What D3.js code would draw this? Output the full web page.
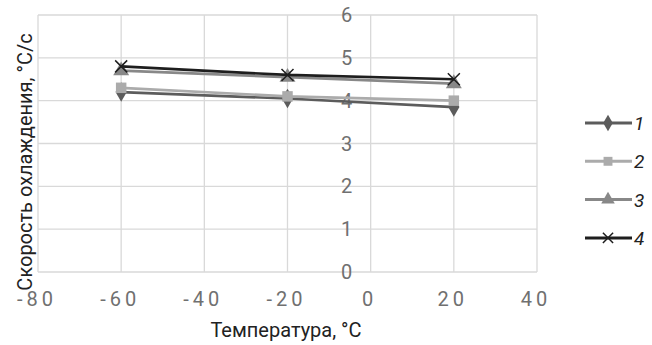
<!DOCTYPE html>
<html>
<head>
<meta charset="utf-8">
<script src="https://cdn.jsdelivr.net/npm/d3@7"></script>
<style>
  body { margin: 0; background: #fff; }
  text { font-family: Roboto, "Liberation Sans", Arial, sans-serif; }
</style>
</head>
<body>
<svg id="chart" width="652" height="345"></svg>
<script>
// data
var temps = [-60, -20, 20];
var series1 = [4.2, 4.05, 3.85];
var series2 = [4.3, 4.1, 4.0];
var series3 = [4.7, 4.55, 4.4];
var series4 = [4.8, 4.6, 4.5];
var seriesNames = ["1", "2", "3", "4"];
var xTicks = [-80, -60, -40, -20, 0, 20, 40];
var yTicks = [0, 1, 2, 3, 4, 5, 6];

var svg = d3.select("#chart");

var x = d3.scaleLinear().domain([-80, 40]).range([38, 537]);
var y = d3.scaleLinear().domain([0, 6]).range([272, 15]);

// grid
svg.append("g").selectAll("line").data(xTicks).enter().append("line")
  .attr("x1", function(d) { return x(d); }).attr("x2", function(d) { return x(d); })
  .attr("y1", y(0)).attr("y2", y(6))
  .attr("stroke", "#d9d9d9").attr("stroke-width", 1.3);
svg.append("g").selectAll("line").data(yTicks).enter().append("line")
  .attr("x1", x(-80)).attr("x2", x(40))
  .attr("y1", function(d) { return y(d); }).attr("y2", function(d) { return y(d); })
  .attr("stroke", "#d9d9d9").attr("stroke-width", 1.3);

// x tick labels (spaced out digits)
svg.append("g").selectAll("text").data(xTicks).enter().append("text")
  .attr("x", function(d) { return x(d) - 1; })
  .attr("y", 306)
  .attr("text-anchor", "middle")
  .attr("font-size", 20)
  .attr("letter-spacing", 4)
  .attr("fill", "#707070")
  .text(function(d) { return d; });

// y tick labels, sitting left of the x=0 axis
svg.append("g").selectAll("text").data(yTicks).enter().append("text")
  .attr("x", x(0) - 24)
  .attr("y", function(d) { return y(d) + 7; })
  .attr("text-anchor", "middle")
  .attr("font-size", 20)
  .attr("fill", "#707070")
  .text(function(d) { return d; });

var all = [
  { name: seriesNames[0], vals: series1, color: "#5c5c5c", sym: d3.symbolDiamond },
  { name: seriesNames[1], vals: series2, color: "#ababab", sym: d3.symbolSquare },
  { name: seriesNames[2], vals: series3, color: "#888888", sym: d3.symbolTriangle },
  { name: seriesNames[3], vals: series4, color: "#1e1e1e", sym: "x" }
];

var line = d3.line()
  .x(function(d, i) { return x(temps[i]); })
  .y(function(d) { return y(d); });

function marker(g, s, cx, cy, scale) {
  if (s.sym === "x") {
    var r = 6 * scale;
    g.append("path")
      .attr("d", "M" + (cx - r) + "," + (cy - r) + "L" + (cx + r) + "," + (cy + r) +
                 "M" + (cx - r) + "," + (cy + r) + "L" + (cx + r) + "," + (cy - r))
      .attr("stroke", s.color).attr("stroke-width", 1.5).attr("fill", "none");
  } else {
    g.append("path")
      .attr("d", d3.symbol().type(s.sym).size(110 * scale * scale)())
      .attr("transform", "translate(" + cx + "," + cy + ")")
      .attr("fill", s.color);
  }
}

all.forEach(function(s) {
  var g = svg.append("g");
  g.append("path").datum(s.vals)
    .attr("d", line)
    .attr("fill", "none")
    .attr("stroke", s.color)
    .attr("stroke-width", 2.7);
  s.vals.forEach(function(v, i) { marker(g, s, x(temps[i]), y(v), 1); });
});

// legend
var leg = svg.append("g");
all.forEach(function(s, i) {
  var ly = 123 + i * 38.3;
  leg.append("line").attr("x1", 585).attr("x2", 632).attr("y1", ly).attr("y2", ly)
    .attr("stroke", s.color).attr("stroke-width", 3);
  marker(leg, s, 608, ly, 0.85);
  leg.append("text").attr("x", 634).attr("y", ly + 7)
    .attr("font-size", 19).attr("font-style", "italic").attr("fill", "#222")
    .text(s.name);
});

// axis titles
svg.append("text")
  .attr("x", 286).attr("y", 337)
  .attr("text-anchor", "middle")
  .attr("font-size", 20)
  .attr("fill", "#222")
  .text("Температура, °С");

svg.append("text")
  .attr("transform", "translate(32,162) rotate(-90)")
  .attr("text-anchor", "middle")
  .attr("font-size", 20)
  .attr("fill", "#222")
  .text("Скорость охлаждения, °С/с");
</script>
</body>
</html>
